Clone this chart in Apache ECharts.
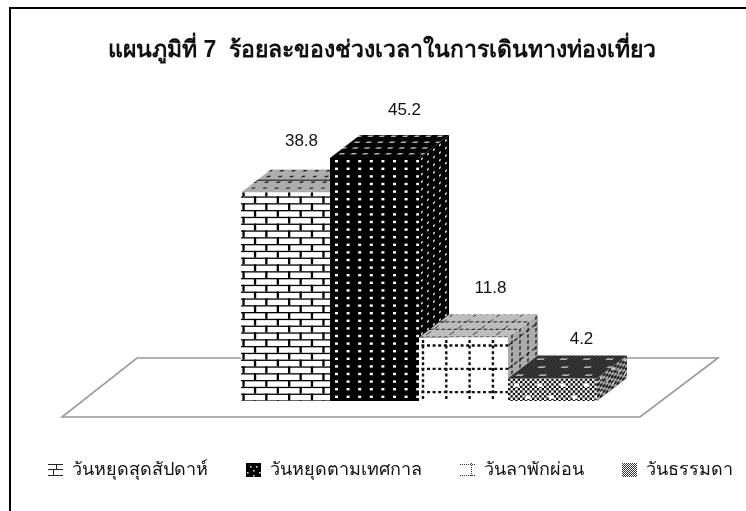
<!DOCTYPE html>
<html>
<head>
<meta charset="utf-8">
<style>html,body{margin:0;padding:0;background:#fff}#c{width:746px;height:511px;filter:blur(0.35px)}</style>
<script src="https://cdn.jsdelivr.net/npm/echarts@6/dist/echarts.min.js"></script>
</head>
<body>
<div id="c"></div>
<script>
const categories = ['วันหยุดสุดสัปดาห์', 'วันหยุดตามเทศกาล', 'วันลาพักผ่อน', 'วันธรรมดา'];
const weekendValues = [38.8];
const festivalValues = [45.2];
const leaveValues = [11.8];
const weekdayValues = [4.2];
const chartTitle = 'แผนภูมิที่ 7  ร้อยละของช่วงเวลาในการเดินทางท่องเที่ยว';

const FONT = '"Liberation Sans","Noto Sans",sans-serif';
const DX = 30, DY = 23;
const BIG = 2400;

function fill(ctx, col) { ctx.fillStyle = col; ctx.fillRect(-BIG, -BIG, 2 * BIG, 2 * BIG); }
function dashedGrid(ctx, periodX, periodY, offX, offY, dash, width, col) {
  ctx.strokeStyle = col; ctx.lineWidth = width; ctx.setLineDash(dash);
  ctx.beginPath();
  for (let x = offX - 46 * periodX; x < 1200; x += periodX) { ctx.moveTo(x, -BIG); ctx.lineTo(x, BIG); }
  for (let y = offY - 60 * periodY; y < 800; y += periodY) { ctx.moveTo(-BIG, y); ctx.lineTo(BIG, y); }
  ctx.stroke(); ctx.setLineDash([]);
}
function dots(ctx, px, py, ox, oy, w, h, col, stagger) {
  ctx.fillStyle = col;
  let r = 0;
  for (let y = oy - 80 * py; y < 800; y += py, r++) {
    const sh = stagger && r % 2 ? px / 2 : 0;
    for (let x = ox - 80 * px; x < 1400; x += px) ctx.fillRect(x + sh, y, w, h);
  }
}
function checker(ctx, cell, a, b) {
  fill(ctx, a);
  ctx.fillStyle = b;
  for (let j = -120; j < 320; j++) for (let i = -120; i < 340; i++)
    if ((i + j) % 2 === 0) ctx.fillRect(i * cell, j * cell, cell, cell);
}
function bricks(ctx) {
  fill(ctx, '#fff');
  ctx.fillStyle = '#000';
  const rowH = 6.8, bw = 22.8;
  for (let r = -1; r < 60; r++) {
    ctx.fillRect(-BIG, 4 + r * rowH, 2 * BIG, 1.3);
    const off = ((r + 1) % 2 === 0) ? 14 : 2.5;
    for (let k = -2; k < 12; k++) ctx.fillRect(off + k * bw - 1.1, 4 + (r - 1) * rowH, 2.3, rowH);
  }
}

const painters = {
  brick: {
    front(ctx) { bricks(ctx); },
    top(ctx) {
      fill(ctx, '#adadad');
      dots(ctx, 11.6, 5.8, 5, -5, 3.5, 1.4, '#222', true);
      ctx.fillStyle = '#444'; ctx.fillRect(-BIG, -13, 2 * BIG, 1.6);
    },
    side(ctx) {
      fill(ctx, '#8a8a8a');
      dots(ctx, 6, 7, 1, 2, 2, 1.5, '#111');
    }
  },
  festival: {
    front(ctx) { fill(ctx, '#000'); dots(ctx, 11.6, 7.6, 5, 2, 3, 2.4, '#fff'); },
    top(ctx) { fill(ctx, '#050505'); dots(ctx, 11.6, 5.8, 4, -5, 5, 1.5, '#b4b4b4', true); },
    side(ctx) { fill(ctx, '#000'); dots(ctx, 6, 7.6, 2, 2, 1.8, 2, '#e0e0e0'); }
  },
  leave: {
    front(ctx) { fill(ctx, '#fff'); dashedGrid(ctx, 23.3, 23.3, 4, 8, [3, 2.6], 2.4, '#111'); },
    top(ctx) { fill(ctx, '#bdbdbd'); dashedGrid(ctx, 23.3, 7.6, 4, -0.5, [3.5, 2.5], 1.2, '#333'); },
    side(ctx) { fill(ctx, '#ababab'); dashedGrid(ctx, 8, 23.3, 4, 8, [3.5, 2.5], 1.3, '#111'); }
  },
  weekday: {
    front(ctx) {
      checker(ctx, 2.4, '#fff', '#111');
      dots(ctx, 23.3, 12, 6, 5, 5, 3.4, '#fff', true);
    },
    top(ctx) {
      fill(ctx, '#a6a6a6');
      ctx.strokeStyle = '#222'; ctx.lineWidth = 1.15; ctx.beginPath();
      for (let i = -300; i < 300; i += 3.8) { ctx.moveTo(i - 200, -100); ctx.lineTo(i + 200, 40); }
      ctx.stroke();
      dots(ctx, 23, 8, 4, -4, 7, 1.4, '#d8d8d8', true);
    },
    side(ctx) { checker(ctx, 2.8, '#a8a8a8', '#222'); dots(ctx, 12, 7, 3, 2, 2.5, 2, '#ccc', true); }
  }
};

const faceCache = {};
function facePattern(key, face, m) {
  const id = key + face + m.join();
  if (!faceCache[id]) {
    const cv = document.createElement('canvas');
    cv.width = 746; cv.height = 511;
    const ctx = cv.getContext('2d');
    ctx.setTransform(m[0], m[1], m[2], m[3], m[4], m[5]);
    painters[key][face](ctx);
    faceCache[id] = { image: cv, repeat: 'repeat' };
  }
  return faceCache[id];
}

function iconFor(key) {
  const cv = document.createElement('canvas');
  cv.width = 19; cv.height = 14;
  const ctx = cv.getContext('2d');
  if (key === 'brick') {
    ctx.fillStyle = '#222';
    ctx.fillRect(0, 1, 15, 1); ctx.fillRect(0, 6, 15, 1); ctx.fillRect(0, 12, 15, 1);
    ctx.fillRect(8, 1, 1, 5); ctx.fillRect(5, 7, 1, 5);
  } else if (key === 'festival') {
    ctx.fillStyle = '#000'; ctx.fillRect(0, 0, 15, 14);
    ctx.fillStyle = '#ddd';
    [[4, 3], [10, 3], [1, 9], [7, 7], [13, 9], [7, 12]].forEach(p => ctx.fillRect(p[0], p[1], 1.6, 1.6));
  } else if (key === 'leave') {
    ctx.strokeStyle = '#333'; ctx.lineWidth = 1; ctx.setLineDash([1, 1]);
    ctx.beginPath();
    ctx.moveTo(0, 1.5); ctx.lineTo(15, 1.5); ctx.moveTo(0, 12.5); ctx.lineTo(15, 12.5);
    ctx.moveTo(11.5, 0); ctx.lineTo(11.5, 14);
    ctx.stroke();
  } else {
    ctx.fillStyle = '#333';
    for (let j = 0; j < 14; j++) for (let i = 0; i < 15; i++) if ((i + j) % 2 === 0) ctx.fillRect(i, j, 1, 1);
  }
  return 'image://' + cv.toDataURL();
}

const labelShift = { brick: [16, -51], festival: [30, -48], leave: [27, -49], weekday: [29, -39] };

function barRenderer(key) {
  return function (params, api) {
    const top = api.coord([api.value(0), api.value(1)]);
    const base = api.coord([api.value(0), 0]);
    const w = api.size([1, 0])[0];
    const x0 = top[0] - w / 2, x1 = top[0] + w / 2, yT = top[1], yB = base[1];
    const shift = labelShift[key];
    return {
      type: 'group',
      children: [
        { type: 'polygon', shape: { points: [[x0, yT], [x1, yT], [x1 + DX, yT - DY], [x0 + DX, yT - DY]] },
          style: { fill: facePattern(key, 'top', [1, 0, -DX / DY, 1, x0, yT]) } },
        { type: 'polygon', shape: { points: [[x1, yT], [x1 + DX, yT - DY], [x1 + DX, yB - DY], [x1, yB]] },
          style: { fill: facePattern(key, 'side', [1, -DY / DX, 0, 1, x1, yT]) } },
        { type: 'rect', shape: { x: x0, y: yT, width: w, height: yB - yT },
          style: { fill: facePattern(key, 'front', [1, 0, 0, 1, x0, yT]) } },
        { type: 'text', style: { text: String(api.value(1)), x: top[0] + shift[0], y: yT + shift[1],
          fill: '#111', font: '17px ' + FONT, align: 'center', verticalAlign: 'middle' } }
      ]
    };
  };
}

function floorRenderer(params, api) {
  const a = api.coord([0, 0]), b = api.coord([3, 0]);
  const w = api.size([1, 0])[0];
  const l = a[0] - w / 2, r = b[0] + w / 2, y = a[1];
  return {
    type: 'polygon',
    shape: { points: [[l - 104, y - 43], [r + 121, y - 43], [r + 43, y + 16], [l - 179, y + 16]] },
    style: { fill: '#fff', stroke: '#9a9a9a', lineWidth: 1.6 }
  };
}

const keys = ['brick', 'festival', 'leave', 'weekday'];
const valueLists = [weekendValues, festivalValues, leaveValues, weekdayValues];

const chart = echarts.init(document.getElementById('c'), null, { renderer: 'canvas', width: 746, height: 511 });
chart.setOption({
  animation: false,
  backgroundColor: '#fff',
  title: {
    text: chartTitle, left: 377, top: 34, textAlign: 'center',
    textStyle: { fontFamily: FONT, fontWeight: 'bold', fontSize: 23, color: '#111' }
  },
  legend: {
    left: 48, top: 461, padding: 0, itemWidth: 19, itemHeight: 14, itemGap: 38, selectedMode: false,
    textStyle: { fontFamily: FONT, fontSize: 18, color: '#111' },
    data: categories.map((name, i) => ({ name, icon: iconFor(keys[i]) }))
  },
  grid: { left: 241, width: 356, top: 132.2, height: 268.8 },
  xAxis: { type: 'category', data: categories, show: false },
  yAxis: { type: 'value', min: 0, max: 50, show: false },
  graphic: [
    { type: 'line', shape: { x1: 10, y1: 8, x2: 746, y2: 8 }, style: { stroke: '#000', lineWidth: 2 } },
    { type: 'line', shape: { x1: 10, y1: 7, x2: 10, y2: 511 }, style: { stroke: '#000', lineWidth: 2 } }
  ],
  series: [
    { type: 'custom', name: 'floor', silent: true, data: [[0, 0]], renderItem: floorRenderer, clip: false, z: 1 }
  ].concat(categories.map((name, i) => ({
    type: 'custom', name, silent: true, clip: false, z: 2 + i,
    data: [[i, valueLists[i][0]]],
    renderItem: barRenderer(keys[i])
  })))
});
</script>
</body>
</html>
